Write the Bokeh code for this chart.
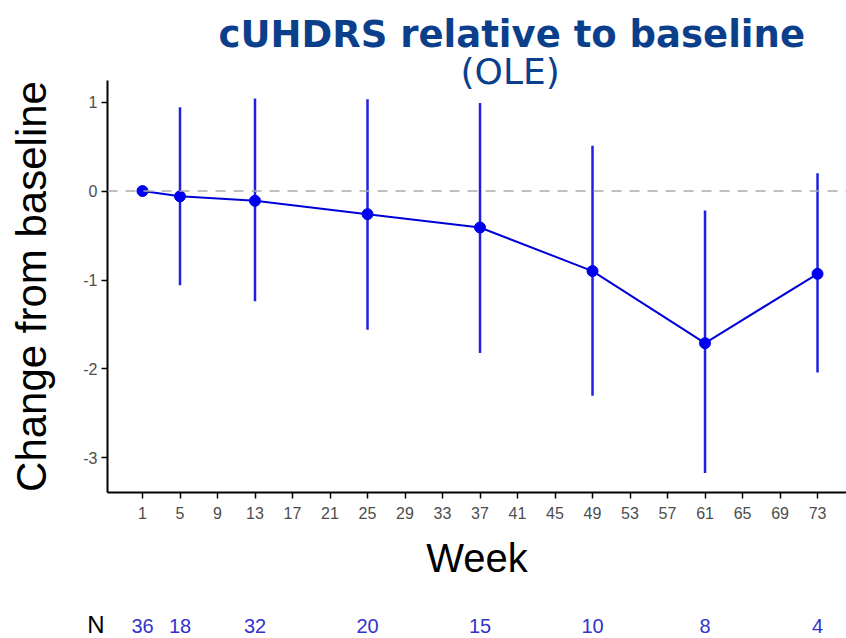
from bokeh.plotting import figure
from bokeh.layouts import column
from bokeh.models import Range1d, FixedTicker, Span, ColumnDataSource, Title
from bokeh.core.properties import value
from bokeh.embed import file_html
from bokeh.resources import INLINE

weeks = [1, 5, 13, 25, 37, 49, 61, 73]
mean_change = [0.0, -0.06, -0.11, -0.26, -0.41, -0.90, -1.71, -0.93]
upper = [0.0, 0.94, 1.04, 1.03, 0.99, 0.51, -0.22, 0.20]
lower = [0.0, -1.06, -1.24, -1.56, -1.82, -2.30, -3.17, -2.04]
n_patients = ["36", "18", "32", "20", "15", "10", "8", "4"]
x_ticks = list(range(1, 74, 4))
y_ticks = [-3, -2, -1, 0, 1]
y_tick_labels = ["-3", "-2", "-1", "0", "1"]

W = 846
LEFT = 107
TITLE_COLOR = "#0b3f8c"

p = figure(width=W, height=600, output_backend="svg", toolbar_location=None,
           x_range=Range1d(-2.733, 76.09), y_range=Range1d(-3.388, 1.242),
           min_border_left=LEFT, min_border_right=0, min_border_top=80, min_border_bottom=108)
p.outline_line_color = None
p.grid.visible = False

for ax in (p.xaxis[0], p.yaxis[0]):
    ax.axis_line_color = "black"
    ax.axis_line_width = 2
    ax.major_tick_line_color = "black"
    ax.major_tick_line_width = 1.5
    ax.major_tick_out = 6
    ax.major_tick_in = 0
    ax.minor_tick_line_color = None
    ax.major_label_text_font = "Liberation Sans"
    ax.major_label_text_color = "#4d4d4d"
    ax.axis_label_text_font = "Liberation Sans"
    ax.axis_label_text_font_style = "normal"
    ax.axis_label_text_color = "black"
p.xaxis[0].ticker = FixedTicker(ticks=x_ticks)
p.yaxis[0].ticker = FixedTicker(ticks=y_ticks)
p.yaxis[0].major_label_overrides = dict(zip(y_ticks, y_tick_labels))
p.xaxis[0].major_label_text_font_size = "16px"
p.yaxis[0].major_label_text_font_size = "16px"
p.xaxis[0].major_label_standoff = 8
p.yaxis[0].major_label_standoff = 4
p.xaxis[0].axis_label = "Week"
p.xaxis[0].axis_label_text_font_size = "40px"
p.xaxis[0].axis_label_standoff = 14
p.yaxis[0].axis_label = "Change from baseline"
p.yaxis[0].axis_label_text_font_size = "42px"
p.yaxis[0].axis_label_standoff = 25

p.add_layout(Title(text="(OLE)", align="left", offset=353, standoff=-23,
                   text_font="DejaVu Sans", text_font_size="36px",
                   text_font_style="normal", text_color=TITLE_COLOR), "above")
p.add_layout(Title(text="cUHDRS relative to baseline", align="left", offset=111, standoff=10,
                   text_font="DejaVu Sans", text_font_size="37px",
                   text_font_style="bold", text_color=TITLE_COLOR), "above")

p.add_layout(Span(location=0, dimension="width", line_color="#aaaaaa",
                  line_dash="10 8", line_width=1.5))

src = ColumnDataSource(dict(x=weeks, y=mean_change, up=upper, lo=lower))
p.segment(x0="x", y0="lo", x1="x", y1="up", source=src, line_color="#2020e0", line_width=2.5)
p.line("x", "y", source=src, line_color="#0000d8", line_width=2)
p.scatter("x", "y", source=src, size=11, fill_color="#0000f0", line_color="#0000f0")

# N row: a strip sharing the main plot's week axis
q = figure(width=W, height=38, output_backend="svg", toolbar_location=None,
           x_range=p.x_range, y_range=Range1d(0, 38),
           x_axis_location=None, y_axis_location="left",
           min_border_left=LEFT, min_border_right=0, min_border_top=0, min_border_bottom=0)
q.outline_line_color = None
q.grid.visible = False
qa = q.yaxis[0]
qa.ticker = FixedTicker(ticks=[13])
qa.major_label_overrides = {13: "N"}
qa.axis_line_color = None
qa.major_tick_line_color = None
qa.minor_tick_line_color = None
qa.major_tick_out = 0
qa.major_label_standoff = 3
qa.major_label_text_font = "Liberation Sans"
qa.major_label_text_font_size = "24px"
qa.major_label_text_color = "black"
q.text(x=weeks, y=[13] * len(weeks), text=n_patients, text_align="center",
       text_baseline="middle", text_font=value("Liberation Sans"),
       text_font_size="20px", text_color="#3333cc")

layout = column(p, q, spacing=0)
open("out.html", "w").write(file_html(layout, INLINE))
